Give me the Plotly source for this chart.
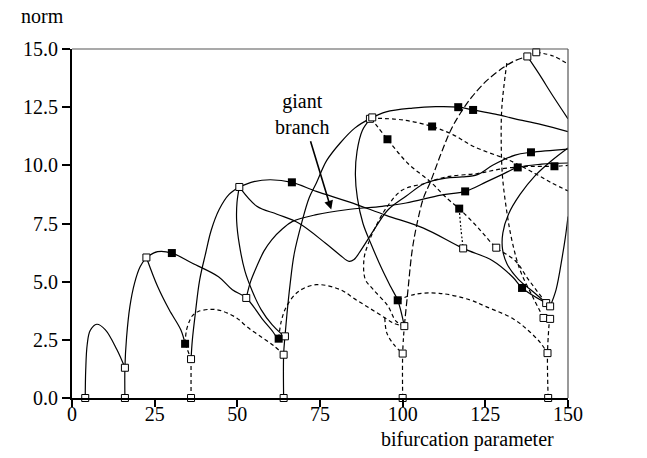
import plotly.graph_objects as go

# ---------------- data ----------------
x_ticks = [0, 25, 50, 75, 100, 125, 150]
y_ticks = [0.0, 2.5, 5.0, 7.5, 10.0, 12.5, 15.0]

# solid branches (x list, y list)
s1_x = [4, 4.15, 4.6, 5.5, 7.5, 10.1, 13.6, 16]
s1_y = [0, 1.2, 2.3, 2.9, 3.17, 2.93, 2.07, 1.3]
s2_x = [16, 16, 16.5, 17.5, 18.9, 20.6, 22.5]
s2_y = [0, 1.3, 2.6, 3.93, 4.93, 5.64, 6.04]
s3_x = [22.5, 25.9, 30.2, 36.4, 44.3, 48.5, 52.7, 57.7, 60.5, 62.5, 64.4]
s3_y = [6.04, 6.29, 6.23, 5.79, 5.21, 4.65, 4.3, 3.37, 2.9, 2.55, 2.65]
s3b_x = [22.5, 25.9, 29.4, 32.9, 34.2]
s3b_y = [6.04, 4.79, 3.79, 2.93, 2.33]
s4_x = [36, 36.4, 37.3, 38.6, 40.4, 42.1, 44.5, 47.5, 50.6]
s4_y = [1.67, 2.5, 3.64, 5.07, 6.21, 7.21, 8.1, 8.75, 9.07]
s5_x = [50.6, 55, 60, 66.5, 73.9, 84, 95, 106.3, 118.3, 127.2, 133.4, 136.1, 143.4]
s5_y = [9.07, 9.3, 9.38, 9.27, 8.88, 8.42, 7.85, 7.3, 6.43, 5.9, 5.18, 4.73, 4.08]
s6_x = [50.6, 49.9, 49.8, 50.6, 52.3, 54.5, 57.2, 60.5, 63, 64.4]
s6_y = [9.07, 8.4, 7.6, 6.6, 5.45, 4.6, 3.8, 3.15, 2.8, 2.65]
s7_x = [50.6, 55.9, 62, 68.5, 76.6, 81, 83.8, 85.3, 87.5, 92, 95.6, 101, 106.6, 113, 118, 122.6, 127.2, 134, 138.8, 150]
s7_y = [9.07, 8.24, 7.9, 7.52, 6.66, 6.15, 5.87, 5.95, 6.38, 7.38, 8.09, 8.67, 9.22, 9.45, 9.5, 9.6, 10.0, 10.44, 10.56, 10.7]
s8_x = [52.7, 54, 55.9, 58, 60.4, 63.5, 66.7, 73.9, 83, 93.8, 101, 111.6, 118.9, 125.3, 130, 134.8, 142, 150]
s8_y = [4.3, 5.0, 5.66, 6.3, 6.8, 7.25, 7.59, 7.88, 8.09, 8.24, 8.38, 8.72, 8.88, 9.29, 9.6, 9.91, 10.05, 10.1]
s9_x = [64, 64, 64.4, 65, 65.9, 67.2, 69.5, 71.7, 73.9, 77, 81.1, 85.5, 90.4, 95, 103, 110, 116.8, 121.3, 128, 134, 142, 150]
s9_y = [0, 1.86, 2.65, 3.6, 4.82, 6.2, 7.55, 8.6, 9.24, 10.2, 10.96, 11.6, 12.03, 12.3, 12.46, 12.52, 12.5, 12.38, 12.2, 12.0, 11.75, 11.45]
s10_x = [90.4, 87.8, 86.2, 85.7, 86.3, 88, 90.5, 93.7, 96.3, 98.5, 100.5]
s10_y = [12.03, 11.5, 10.6, 9.6, 8.6, 7.5, 6.6, 5.55, 4.8, 4.2, 3.09]
s11_x = [137.7, 141.1, 145.5, 150]
s11_y = [14.68, 13.96, 12.97, 12.0]
s12_x = [150, 145, 140, 135.5, 132, 130.3, 130.2, 131.6, 135, 140, 143.4]
s12_y = [10.75, 10.2, 9.55, 8.75, 7.9, 7.1, 6.4, 5.75, 5.1, 4.5, 4.08]
s13_x = [150, 149.2, 148.3, 146.4, 144.6]
s13_y = [7.8, 6.9, 6.1, 4.66, 3.94]

# dashed branches
d1_x = [36, 36]
d1_y = [0, 1.67]
d2_x = [34.2, 36]
d2_y = [2.33, 1.67]
d3_x = [34.2, 34.6, 35.5, 36.5, 38.2, 41.7, 44.3, 47, 50, 53, 57.5, 61, 64]
d3_y = [2.33, 2.9, 3.3, 3.55, 3.72, 3.81, 3.78, 3.65, 3.42, 3.05, 2.6, 2.25, 1.86]
d4_x = [62.5, 63.3, 64.9, 68.5, 73.9, 81.1, 85.6, 90.1, 94.6, 97.5, 100.5]
d4_y = [2.55, 3.3, 3.94, 4.58, 4.87, 4.66, 4.25, 3.85, 3.45, 3.2, 3.09]
d5_x = [94.6, 95.2, 97.3, 100]
d5_y = [3.45, 2.8, 2.3, 1.91]
d6_x = [100, 100, 100.5]
d6_y = [0, 1.91, 3.09]
d8_x = [140.4, 145.5, 150]
d8_y = [14.86, 14.7, 14.35]
d9_x = [90.4, 100, 108.9, 115.3, 121.6, 130.8, 134, 140, 145, 150]
d9_y = [12.03, 11.95, 11.67, 11.31, 10.8, 10.3, 10.1, 9.65, 9.25, 8.9]
d10_x = [90.4, 95.4, 101.6, 108.4, 113.5, 117.1, 122.6, 128.3, 134, 138, 143.4]
d10_y = [12.03, 11.12, 10.08, 9.29, 8.57, 8.14, 7.35, 6.46, 5.91, 5.1, 4.08]
d12_x = [98.5, 103.8, 111.1, 120.3, 125, 133.5, 138, 141.5, 143.8]
d12_y = [4.2, 4.46, 4.5, 4.22, 3.94, 3.4, 2.9, 2.4, 1.93]
d13_x = [144, 143.8, 144.4]
d13_y = [0, 1.93, 3.4]
d14_x = [100.5, 98, 95.5, 91, 88.7, 88.3, 89.5, 91.6, 95.2, 99.8, 106.6, 113.5, 122.6, 130.8, 138, 145.9, 150]
d14_y = [3.09, 3.3, 3.96, 4.68, 5.1, 5.97, 6.6, 7.3, 8.2, 8.93, 9.22, 9.51, 9.65, 9.87, 9.95, 9.96, 10.0]
d15_x = [131.5, 130, 129.8, 130.2, 131.5, 133, 135.5, 139.5, 142.6]
d15_y = [14.4, 12.5, 11.0, 9.5, 8.0, 6.8, 5.5, 4.3, 3.44]
# long-dashed arch
d7_x = [100.5, 101.5, 102.9, 104.5, 106.3, 108.4, 111.6, 114.5, 117.5, 121, 125.5, 130.4, 134, 137.7]
d7_y = [3.09, 4.5, 6.37, 7.6, 8.6, 9.29, 10.5, 11.5, 12.25, 12.95, 13.65, 14.2, 14.5, 14.68]
# dotted
d11_x = [117.1, 117.6, 118.3]
d11_y = [8.14, 7.3, 6.43]

# markers
open_x = [4, 16, 36, 64, 100, 144, 16, 22.5, 36, 50.6, 52.7, 64, 64.4, 90.1, 90.8, 100, 100.5,
          118.3, 128.3, 137.7, 140.4, 143.4, 144.6, 142.6, 144.6, 143.8]
open_y = [0, 0, 0, 0, 0, 0, 1.3, 6.04, 1.67, 9.07, 4.3, 1.86, 2.65, 12.0, 12.06, 1.91, 3.09,
          6.43, 6.46, 14.68, 14.86, 4.08, 3.94, 3.44, 3.4, 1.93]
filled_x = [30.2, 34.2, 62.5, 66.5, 95.4, 98.5, 108.9, 116.8, 121.3, 118.9, 117.1, 134.8, 138.8, 145.9, 136.1]
filled_y = [6.23, 2.33, 2.55, 9.27, 11.12, 4.2, 11.67, 12.5, 12.38, 8.88, 8.14, 9.91, 10.56, 9.96, 4.73]

# ---------------- figure ----------------
fig = go.Figure()

def add_line(xs, ys, dash="solid", width=1.2):
    fig.add_trace(go.Scatter(x=xs, y=ys, mode="lines",
                             line=dict(color="black", width=width, dash=dash, shape="spline", smoothing=1.0),
                             hoverinfo="skip", showlegend=False))

for xs, ys in [(s1_x, s1_y), (s2_x, s2_y), (s3_x, s3_y), (s3b_x, s3b_y), (s4_x, s4_y), (s5_x, s5_y),
               (s6_x, s6_y), (s7_x, s7_y), (s8_x, s8_y), (s9_x, s9_y), (s10_x, s10_y), (s11_x, s11_y),
               (s12_x, s12_y), (s13_x, s13_y)]:
    add_line(xs, ys)

DASH = "4px,3px"
for xs, ys in [(d1_x, d1_y), (d2_x, d2_y), (d3_x, d3_y), (d4_x, d4_y), (d5_x, d5_y), (d6_x, d6_y),
               (d8_x, d8_y), (d9_x, d9_y), (d10_x, d10_y), (d12_x, d12_y), (d13_x, d13_y),
               (d14_x, d14_y), (d15_x, d15_y)]:
    add_line(xs, ys, dash=DASH)
add_line(d7_x, d7_y, dash="7px,3px")
add_line(d11_x, d11_y, dash="2px,2px")

fig.add_trace(go.Scatter(x=open_x, y=open_y, mode="markers",
                         marker=dict(symbol="square", size=7, color="white",
                                     line=dict(color="black", width=1)),
                         hoverinfo="skip", showlegend=False, cliponaxis=False))
fig.add_trace(go.Scatter(x=filled_x, y=filled_y, mode="markers",
                         marker=dict(symbol="square", size=8, color="black",
                                     line=dict(color="black", width=0)),
                         hoverinfo="skip", showlegend=False, cliponaxis=False))

FONT = "Liberation Serif"
FS = 20
fig.update_layout(
    width=647, height=458,
    margin=dict(l=72, r=79, t=49, b=60),
    paper_bgcolor="white", plot_bgcolor="white",
    font=dict(family=FONT, size=FS, color="black"),
    xaxis=dict(range=[0, 150], tickvals=x_ticks, ticktext=[str(v) for v in x_ticks],
               showgrid=False, zeroline=False, showline=True, linecolor="black", linewidth=2,
               ticks="outside", ticklen=7, tickwidth=1.5, tickcolor="black",
               ticklabelstandoff=-10,
               tickfont=dict(family=FONT, size=FS)),
    yaxis=dict(range=[0, 15], tickvals=y_ticks, ticktext=[f"{v:.1f}" for v in y_ticks],
               showgrid=False, zeroline=False, showline=True, linecolor="black", linewidth=2,
               ticks="outside", ticklen=8, tickwidth=1.5, tickcolor="black",
               tickfont=dict(family=FONT, size=FS)),
    shapes=[
        dict(type="line", xref="paper", yref="paper", x0=0, x1=1, y0=1, y1=1,
             line=dict(color="#555", width=1.2)),
        dict(type="line", xref="paper", yref="paper", x0=1, x1=1, y0=0, y1=1,
             line=dict(color="#555", width=1.2)),
    ],
    annotations=[
        dict(text="norm", xref="paper", yref="paper", x=-0.06, y=1.095,
             xanchor="center", yanchor="middle", showarrow=False,
             font=dict(family=FONT, size=FS)),
        dict(text="bifurcation parameter", xref="paper", yref="paper", x=0.798, y=-0.12,
             xanchor="center", yanchor="middle", showarrow=False,
             font=dict(family=FONT, size=FS)),
        dict(text="giant<br>branch", x=69.7, y=12.2, xref="x", yref="y", showarrow=False,
             xanchor="center", yanchor="middle",
             font=dict(family=FONT, size=FS)),
        dict(text="", x=78.4, y=8.1, ax=72, ay=11.1, xref="x", yref="y", axref="x", ayref="y",
             showarrow=True, arrowhead=2, arrowsize=1.1, arrowwidth=1.6, arrowcolor="black"),
    ],
)

fig.write_html("out.html")
